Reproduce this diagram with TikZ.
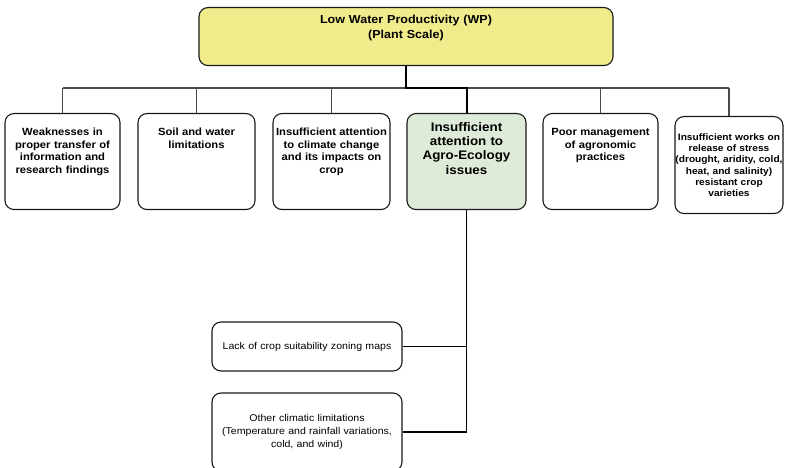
\documentclass[tikz,border=0pt]{standalone}
\usepackage{fontspec}
\setmainfont{Liberation Sans}[FakeStretch=1.08]
\usetikzlibrary{positioning}
\definecolor{wpAmarillo}{HTML}{F0EC8C}
\definecolor{wpVerde}{HTML}{DDEBD8}
\definecolor{wpGris}{HTML}{4A4A4A}

\begin{document}
\begin{tikzpicture}[x=1pt,y=-1pt,
      s/.style={draw=black!90, line width=1.1pt, rounded corners=9pt, fill=#1,
                align=center, inner xsep=1pt, inner ysep=3pt},
      cause/.style={s=white, anchor=north, text height=19pt, text depth=71pt,
                font=\bfseries\fontsize{10.4}{12.5}\selectfont},
      sub/.style={s=white, text width=188pt,
                font=\fontsize{9.8}{13}\selectfont},
      bus/.style={draw=wpGris, line width=1.2pt},
      trunk/.style={draw=black, line width=2pt}]
    \useasboundingbox (0,0) rectangle (785,468);
    \clip (0,0) rectangle (785,468);
    % root
    \node[s=wpAmarillo, anchor=north, text width=412pt, text height=13pt, text depth=39pt,
          font=\bfseries\fontsize{11.6}{14.5}\selectfont] (wp) at (406,7)
          {Low Water Productivity (WP)\\(Plant Scale)};
    % causes
    \node[cause, text width=113pt] (info) at (62.5,113)
          {Weaknesses in\\proper transfer of\\information and\\research findings};
    \node[cause, text width=115pt] (soil) at (196.5,113)
          {Soil and water\\limitations};
    \node[cause, text width=115pt] (clim) at (331.5,113)
          {Insufficient attention\\to climate change\\and its impacts on\\crop};
    \node[cause, s=wpVerde, text width=117pt, text height=15pt, text depth=75pt,
          font=\bfseries\fontsize{12.4}{14.2}\selectfont] (agro) at (466.5,113)
          {Insufficient\\attention to\\Agro-Ecology\\issues};
    \node[cause, text width=113pt] (agron) at (600.5,113)
          {Poor management\\of agronomic\\practices};
    \node[cause, text width=108pt, inner xsep=0pt, text height=21pt, text depth=70pt,
          font=\bfseries\fontsize{9.4}{11.2}\selectfont] (stress) at (729,116)
          {Insufficient works on\\release of stress\\(drought, aridity, cold,\\heat, and salinity)\\resistant crop\\varieties};
    % sub causes
    \node[sub, minimum height=49pt] (zoning) at (307,346.5)
          {Lack of crop suitability zoning maps};
    \node[sub, minimum height=78pt] (other) at (307,432)
          {Other climatic limitations\\(Temperature and rainfall variations,\\cold, and wind)};
    % connectors
    \coordinate (busy) at (0,88);
    \draw[bus] (info.north |- busy) -- (stress.north |- busy);
    \foreach \n in {info,soil,clim,agron,stress}
      \draw[bus] (\n.north) -- (\n.north |- busy);
    \draw[trunk] (wp.south) -- (wp.south |- busy) -- (agro.north |- busy) -- (agro.north);
    \draw[black, line width=1.5pt] (agro.south) |- (other.east);
    \draw[black, line width=1.3pt] (zoning.east) -- (zoning.east -| agro.south);
  \end{tikzpicture}
\end{document}
